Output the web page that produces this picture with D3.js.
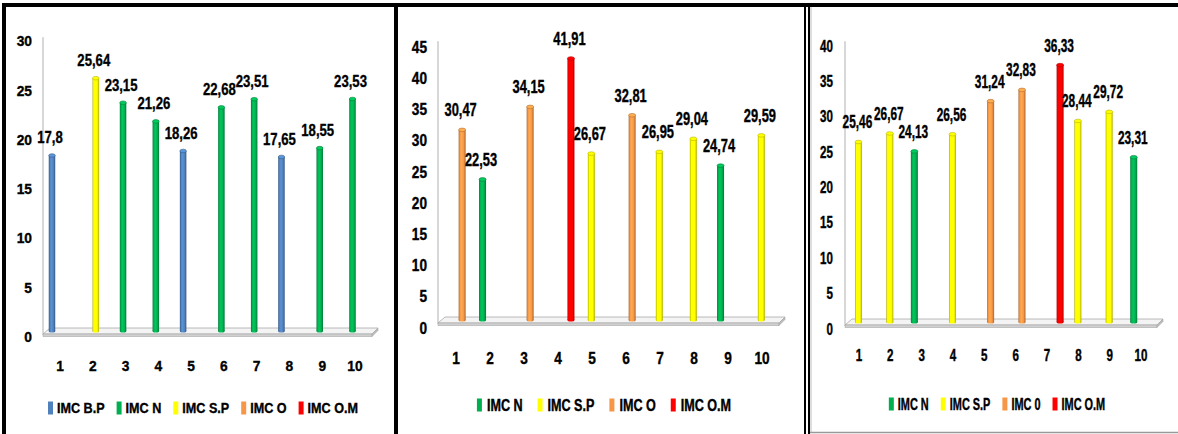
<!DOCTYPE html>
<html>
<head>
<meta charset="utf-8">
<script src="https://cdn.jsdelivr.net/npm/d3@7"></script>
<style>
  html, body { margin: 0; padding: 0; background: #fff; }
  svg { display: block; }
  text { font-family: "Liberation Sans", Arial, sans-serif; font-weight: bold; fill: #000; stroke: #000; stroke-width: 0.35px; }
</style>
</head>
<body>
<svg id="chart" width="1178" height="434"></svg>
<script>
// Category labels shared by the three panels
const categories = ["1", "2", "3", "4", "5", "6", "7", "8", "9", "10"];

// Panel A
const seriesA = ["IMC B.P", "IMC N", "IMC S.P", "IMC O", "IMC O.M"];
const valuesA = [17.8, 25.64, 23.15, 21.26, 18.26, 22.68, 23.51, 17.65, 18.55, 23.53];
const groupA  = ["IMC B.P", "IMC S.P", "IMC N", "IMC N", "IMC B.P", "IMC N", "IMC N", "IMC B.P", "IMC N", "IMC N"];
const ticksA  = [0, 5, 10, 15, 20, 25, 30];

// Panel B
const seriesB = ["IMC N", "IMC S.P", "IMC O", "IMC O.M"];
const valuesB = [30.47, 22.53, 34.15, 41.91, 26.67, 32.81, 26.95, 29.04, 24.74, 29.59];
const groupB  = ["IMC O", "IMC N", "IMC O", "IMC O.M", "IMC S.P", "IMC O", "IMC S.P", "IMC S.P", "IMC N", "IMC S.P"];
const ticksB  = [0, 5, 10, 15, 20, 25, 30, 35, 40, 45];

// Panel C
const seriesC = ["IMC N", "IMC S.P", "IMC 0", "IMC O.M"];
const valuesC = [25.46, 26.67, 24.13, 26.56, 31.24, 32.83, 36.33, 28.44, 29.72, 23.31];
const groupC  = ["IMC S.P", "IMC S.P", "IMC N", "IMC S.P", "IMC 0", "IMC 0", "IMC O.M", "IMC S.P", "IMC S.P", "IMC N"];
const ticksC  = [0, 5, 10, 15, 20, 25, 30, 35, 40];

const seriesColor = {
  "IMC B.P": "#4F81BD",
  "IMC N": "#00B050",
  "IMC S.P": "#FFFF00",
  "IMC O": "#F79646",
  "IMC 0": "#F79646",
  "IMC O.M": "#FF0000"
};

const fmt = v => String(v).replace(".", ",");

const svg = d3.select("#chart");
const defs = svg.append("defs");

// Horizontal shading that gives each bar a rounded, cylindrical look
const gradId = {};
Object.entries(seriesColor).forEach(([name, c], i) => {
  const id = "cyl" + i;
  gradId[name] = id;
  const g = defs.append("linearGradient").attr("id", id)
    .attr("x1", "0%").attr("x2", "100%").attr("y1", "0%").attr("y2", "0%");
  const base = d3.color(c);
  [[0, base.darker(1.1)], [0.18, base], [0.42, base.brighter(0.35)], [0.72, base], [1, base.darker(1.1)]]
    .forEach(([o, col]) => g.append("stop").attr("offset", o).attr("stop-color", col.formatHex()));
});

// Panel frames
const frame = svg.append("g");
frame.append("line").attr("x1", 2).attr("x2", 1178).attr("y1", 5).attr("y2", 5)
  .attr("stroke", "#000").attr("stroke-width", 4);
frame.append("line").attr("x1", 4).attr("x2", 4).attr("y1", 3).attr("y2", 434)
  .attr("stroke", "#000").attr("stroke-width", 4);
frame.append("line").attr("x1", 396).attr("x2", 396).attr("y1", 3).attr("y2", 434)
  .attr("stroke", "#000").attr("stroke-width", 4);
frame.append("line").attr("x1", 805).attr("x2", 805).attr("y1", 3).attr("y2", 434)
  .attr("stroke", "#000").attr("stroke-width", 2);
frame.append("line").attr("x1", 809).attr("x2", 809).attr("y1", 3).attr("y2", 434)
  .attr("stroke", "#000").attr("stroke-width", 2);
frame.append("line").attr("x1", 811).attr("x2", 811).attr("y1", 7).attr("y2", 432)
  .attr("stroke", "#bbb").attr("stroke-width", 1);
frame.append("line").attr("x1", 810).attr("x2", 1178).attr("y1", 432.5).attr("y2", 432.5)
  .attr("stroke", "#999").attr("stroke-width", 1.5);

function drawPanel(cfg) {
  const g = svg.append("g");

  const y = d3.scaleLinear().domain([0, cfg.yMax]).range([cfg.zeroY, cfg.topY]);
  const x = d3.scaleBand().domain(categories).range(cfg.xRange).padding(0);
  const xs = d3.scaleBand().domain(cfg.series).range(cfg.subRange).padding(0);
  const catC = c => x(c) + x.bandwidth() / 2;
  const barC = (c, s) => catC(c) + xs(s) + xs.bandwidth() / 2;

  const textAt = (sel, tx, ty, sx, sy) =>
    sel.attr("transform", `translate(${tx},${ty}) scale(${sx},${sy})`);

  // back-wall edge
  g.append("line")
    .attr("x1", cfg.axisX).attr("x2", cfg.axisX)
    .attr("y1", y(cfg.yMax) + 2).attr("y2", cfg.zeroY + 4)
    .attr("stroke", "#b0b0b0").attr("stroke-width", 1);

  // floor slab
  const z = cfg.zeroY;
  g.append("path")
    .attr("d", `M${cfg.axisX + 7},${z - 3} L${cfg.floorRight},${z - 3} L${cfg.floorRight - 6},${z + 3} L${cfg.axisX},${z + 3} Z`)
    .attr("fill", "#f4f4f4").attr("stroke", "#a8a8a8").attr("stroke-width", 0.8);
  g.append("path")
    .attr("d", `M${cfg.axisX},${z + 3} L${cfg.floorRight - 6},${z + 3} L${cfg.floorRight - 6},${z + 5.5} L${cfg.axisX},${z + 5.5} Z`)
    .attr("fill", "#d0d0d0").attr("stroke", "#a8a8a8").attr("stroke-width", 0.6);
  g.append("path")
    .attr("d", `M${cfg.floorRight},${z - 3} L${cfg.floorRight},${z - 0.5} L${cfg.floorRight - 6},${z + 5.5} L${cfg.floorRight - 6},${z + 3} Z`)
    .attr("fill", "#bdbdbd").attr("stroke", "#a8a8a8").attr("stroke-width", 0.6);

  // y tick labels
  g.selectAll(".ytick").data(cfg.ticks).join("text")
    .attr("class", "ytick")
    .attr("text-anchor", "end")
    .attr("font-size", cfg.tickFont)
    .each(function (d) { textAt(d3.select(this), cfg.tickX, y(d) + cfg.tickDy, cfg.sx, cfg.sy); })
    .text(d => d);

  // category labels
  g.selectAll(".xtick").data(categories).join("text")
    .attr("class", "xtick")
    .attr("text-anchor", "middle")
    .attr("font-size", cfg.tickFont)
    .each(function (d) { textAt(d3.select(this), catC(d), cfg.xLabelY, cfg.sx, cfg.sy); })
    .text(d => d);

  const rows = categories.map((c, i) => ({ c, v: cfg.values[i], s: cfg.groups[i] }));
  const w = cfg.barW;

  const bars = g.selectAll(".bar").data(rows).join("g").attr("class", "bar");
  bars.append("rect")
    .attr("x", d => barC(d.c, d.s) - w / 2)
    .attr("y", d => y(d.v))
    .attr("width", w)
    .attr("height", d => y(0) - y(d.v))
    .attr("fill", d => `url(#${gradId[d.s]})`);
  bars.append("ellipse")
    .attr("cx", d => barC(d.c, d.s)).attr("cy", y(0))
    .attr("rx", w / 2).attr("ry", 1.6)
    .attr("fill", d => `url(#${gradId[d.s]})`);
  bars.append("ellipse")
    .attr("cx", d => barC(d.c, d.s)).attr("cy", d => y(d.v))
    .attr("rx", w / 2).attr("ry", 1.8)
    .attr("fill", d => d3.color(seriesColor[d.s]).brighter(0.4).formatHex())
    .attr("stroke", d => d3.color(seriesColor[d.s]).darker(0.9).formatHex())
    .attr("stroke-width", 0.6);

  // value labels
  g.selectAll(".val").data(rows).join("text")
    .attr("class", "val")
    .attr("text-anchor", "middle")
    .attr("font-size", cfg.valFont)
    .each(function (d) { textAt(d3.select(this), barC(d.c, d.s) + cfg.valDx, y(d.v) - cfg.valGap, cfg.valSx, cfg.sy); })
    .text(d => fmt(d.v));

  // legend
  const lg = g.append("g");
  let cursor = 0;
  cfg.series.forEach(s => {
    const item = lg.append("g").attr("transform", `translate(${cursor},0)`);
    item.append("rect").attr("x", 0).attr("y", -6.5).attr("width", 5).attr("height", 13)
      .attr("fill", seriesColor[s]);
    const t = item.append("text").attr("font-size", cfg.legFont)
      .attr("transform", `translate(${cfg.legPad},${cfg.legBase}) scale(${cfg.legSx},${cfg.legSy})`)
      .text(s);
    cursor += cfg.legPad + t.node().getComputedTextLength() * cfg.legSx + cfg.legGap;
  });
  const total = cursor - cfg.legGap;
  lg.attr("transform", `translate(${cfg.legCenter - total / 2},${cfg.legY})`);
}

drawPanel({
  series: seriesA, values: valuesA, groups: groupA, ticks: ticksA, yMax: 30,
  zeroY: 331, topY: 35.2, xRange: [43.6, 371.4], subRange: [-10.75, 16.75],
  axisX: 43, floorRight: 378, barW: 6.5,
  tickX: 32, tickDy: 11, xLabelY: 370.5, tickFont: 15,
  valFont: 16, valGap: 12, valDx: -2, valSx: 0.82,
  legFont: 14, legPad: 9, legGap: 12, legCenter: 203, legY: 408, legBase: 5,
  legSx: 0.9, legSy: 1.05,
  sx: 0.92, sy: 1
});

drawPanel({
  series: seriesB, values: valuesB, groups: groupB, ticks: ticksB, yMax: 45,
  zeroY: 320, topY: 39.2, xRange: [439, 779], subRange: [-10.85, 16.35],
  axisX: 438, floorRight: 785, barW: 7,
  tickX: 427, tickDy: 13.5, xLabelY: 363.5, tickFont: 15.5,
  valFont: 16.5, valGap: 13.5, valDx: -1.5, valSx: 0.78,
  legFont: 14, legPad: 10, legGap: 15, legCenter: 604, legY: 405, legBase: 6,
  legSx: 0.9, legSy: 1.2,
  sx: 0.88, sy: 1.12
});

drawPanel({
  series: seriesC, values: valuesC, groups: groupC, ticks: ticksC, yMax: 40,
  zeroY: 322, topY: 39.2, xRange: [843.3, 1156.7], subRange: [-10.7, 16.5],
  axisX: 845, floorRight: 1163, barW: 7,
  tickX: 833, tickDy: 12.5, xLabelY: 361, tickFont: 14.5,
  valFont: 16.5, valGap: 13.5, valDx: -1, valSx: 0.72,
  legFont: 14, legPad: 9, legGap: 12, legCenter: 997, legY: 404, legBase: 5.5,
  legSx: 0.78, legSy: 1.15,
  sx: 0.8, sy: 1.1
});
</script>
</body>
</html>
